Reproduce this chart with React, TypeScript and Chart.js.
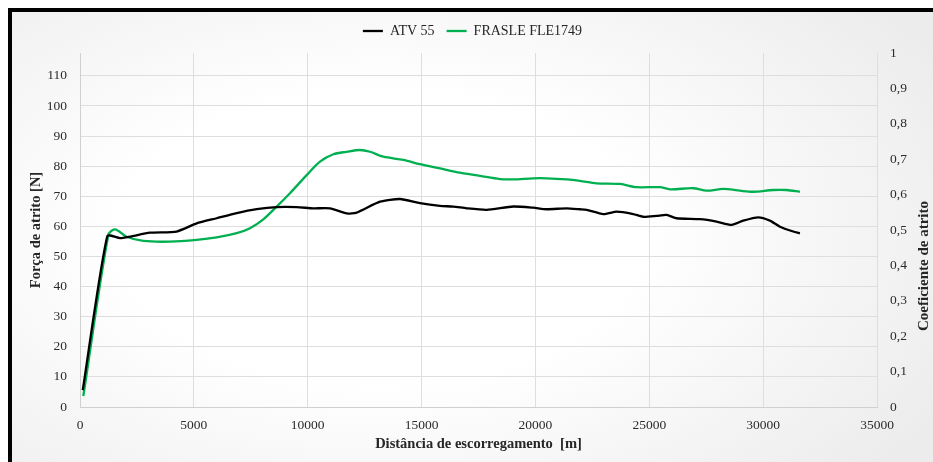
import React, { useEffect, useRef } from 'react';
import { Chart, registerables } from 'chart.js';
Chart.register(...registerables);

const FONT = "'Liberation Serif', 'Times New Roman', serif";

// ATV 55 — friction force [N] (left axis)
const atvX = [120, 1200, 1757, 2195, 3074, 4245, 5123, 6002, 6880, 7758, 8636, 9514, 10245, 10977, 11711, 12150, 13173, 14051, 14929, 15807, 16393, 16978, 17856, 19027, 19905, 20490, 21371, 21955, 22250, 22978, 23567, 24297, 24737, 25322, 25761, 26200, 27224, 27956, 28615, 29126, 29785, 30297, 30736, 31321, 31614];
const atvY = [5.6, 56.8, 56.1, 56.6, 57.9, 58.3, 61.0, 62.7, 64.4, 65.7, 66.4, 66.4, 66.0, 66.0, 64.3, 64.6, 68.2, 69.1, 67.7, 66.8, 66.6, 66.0, 65.5, 66.6, 66.2, 65.7, 66.0, 65.7, 65.5, 64.1, 64.9, 64.1, 63.2, 63.5, 63.8, 62.7, 62.4, 61.6, 60.5, 61.9, 63.0, 61.9, 59.9, 58.3, 57.7];

// FRASLE FLE1749 — friction coefficient (right axis)
const frX = [146, 1244, 1537, 2049, 2781, 3952, 5123, 6002, 6880, 7466, 8050, 8636, 9221, 9954, 10538, 11123, 11711, 12295, 12734, 13319, 14197, 14929, 15807, 16685, 17564, 18442, 19027, 19905, 20490, 21371, 21955, 22689, 23711, 24444, 25468, 25907, 26931, 27517, 28250, 28981, 29566, 30443, 31029, 31614];
const frY = [0.031, 0.486, 0.502, 0.481, 0.469, 0.467, 0.472, 0.479, 0.491, 0.505, 0.530, 0.566, 0.604, 0.655, 0.693, 0.714, 0.721, 0.726, 0.721, 0.707, 0.698, 0.686, 0.674, 0.662, 0.653, 0.644, 0.643, 0.646, 0.646, 0.643, 0.639, 0.632, 0.630, 0.621, 0.621, 0.615, 0.618, 0.611, 0.616, 0.611, 0.608, 0.613, 0.613, 0.608];

const leftTicks = [0, 10, 20, 30, 40, 50, 60, 70, 80, 90, 100, 110];
const rightTicks = [0, 0.1, 0.2, 0.3, 0.4, 0.5, 0.6, 0.7, 0.8, 0.9, 1];
const xTicks = [0, 5000, 10000, 15000, 20000, 25000, 30000, 35000];

const legendFit = {
  id: 'legendFit',
  beforeInit(chart: any) {
    const orig = chart.legend.fit;
    chart.legend.fit = function () {
      orig.bind(chart.legend)();
      this.height = 41;
    };
  },
};

const rightTitle = {
  id: 'rightTitle',
  afterDraw(chart: any) {
    const ctx = chart.ctx;
    ctx.save();
    ctx.translate(912, 254);
    ctx.rotate(-Math.PI / 2);
    ctx.font = `bold 15px ${FONT}`;
    ctx.fillStyle = '#262626';
    ctx.textAlign = 'center';
    ctx.textBaseline = 'middle';
    ctx.fillText('Coeficiente de atrito', 0, 0);
    ctx.restore();
  },
};

export default function App() {
  const ref = useRef<HTMLCanvasElement>(null);
  useEffect(() => {
    const chart = new Chart(ref.current!, {
      type: 'line',
      data: {
        datasets: [
          {
            label: 'ATV 55',
            data: atvX.map((x, i) => ({ x, y: atvY[i] })),
            borderColor: '#000000',
            backgroundColor: '#000000',
            borderWidth: 2.3,
            pointRadius: 0,
            tension: 0.2,
            yAxisID: 'y',
          },
          {
            label: 'FRASLE FLE1749',
            data: frX.map((x, i) => ({ x, y: frY[i] })),
            borderColor: '#00b050',
            backgroundColor: '#00b050',
            borderWidth: 2.3,
            pointRadius: 0,
            tension: 0.3,
            yAxisID: 'y1',
          },
        ],
      },
      options: {
        responsive: false,
        animation: false,
        layout: { padding: 0 },
        plugins: {
          tooltip: { enabled: false },
          legend: {
            position: 'top',
            labels: {
              usePointStyle: true,
              pointStyle: 'line',
              pointStyleWidth: 20,
              boxHeight: 14,
              padding: 12,
              color: '#262626',
              font: { family: FONT, size: 14 },
            },
          },
        },
        scales: {
          x: {
            type: 'linear',
            min: 0,
            max: 35000,
            afterBuildTicks: (s: any) => { s.ticks = xTicks.map((v) => ({ value: v })); },
            afterFit: (s: any) => { s.height = 55; },
            grid: { color: '#dedede', drawTicks: false },
            border: { color: '#d0d0d0' },
            ticks: {
              padding: 10,
              color: '#2b2b2b',
              maxRotation: 0,
              font: { family: FONT, size: 13.5 },
              callback: (v: any) => String(v),
            },
            title: {
              display: true,
              text: 'Distância de escorregamento  [m]',
              color: '#262626',
              font: { family: FONT, size: 14.5, weight: 'bold' },
              padding: { top: 0, bottom: 9 },
            },
          },
          y: {
            type: 'linear',
            position: 'left',
            min: 0,
            max: 117.6,
            afterBuildTicks: (s: any) => { s.ticks = leftTicks.map((v) => ({ value: v })); },
            afterFit: (s: any) => { s.width = 68; },
            grid: { color: '#dedede', drawTicks: false },
            border: { color: '#d0d0d0' },
            ticks: {
              padding: 13,
              color: '#2b2b2b',
              font: { family: FONT, size: 13.5 },
            },
            title: {
              display: true,
              text: 'Força de atrito [N]',
              color: '#262626',
              font: { family: FONT, size: 14.5, weight: 'bold' },
              padding: { top: 16, bottom: 0 },
            },
          },
          y1: {
            type: 'linear',
            position: 'right',
            min: 0,
            max: 1,
            afterBuildTicks: (s: any) => { s.ticks = rightTicks.map((v) => ({ value: v })); },
            afterFit: (s: any) => { s.width = 56; },
            grid: { display: false, drawTicks: false },
            border: { display: false },
            ticks: {
              padding: 13,
              color: '#2b2b2b',
              font: { family: FONT, size: 13.5 },
              callback: (v: any) => {
                const r = Math.round(Number(v) * 10) / 10;
                return String(r).replace('.', ',');
              },
            },
          },
        },
      },
      plugins: [legendFit, rightTitle],
    } as any);
    return () => chart.destroy();
  }, []);

  return (
    <div
      style={{
        position: 'fixed',
        left: 8,
        top: 8,
        width: 925,
        height: 454,
        boxSizing: 'border-box',
        borderTop: '4px solid #000',
        borderLeft: '4px solid #000',
        background: 'radial-gradient(ellipse 70% 80% at 40% 50%, #ffffff 40%, #ececec 100%)',
        overflow: 'hidden',
      }}
    >
      <canvas ref={ref} width={921} height={450} style={{ display: 'block', width: 921, height: 450 }} />
    </div>
  );
}
